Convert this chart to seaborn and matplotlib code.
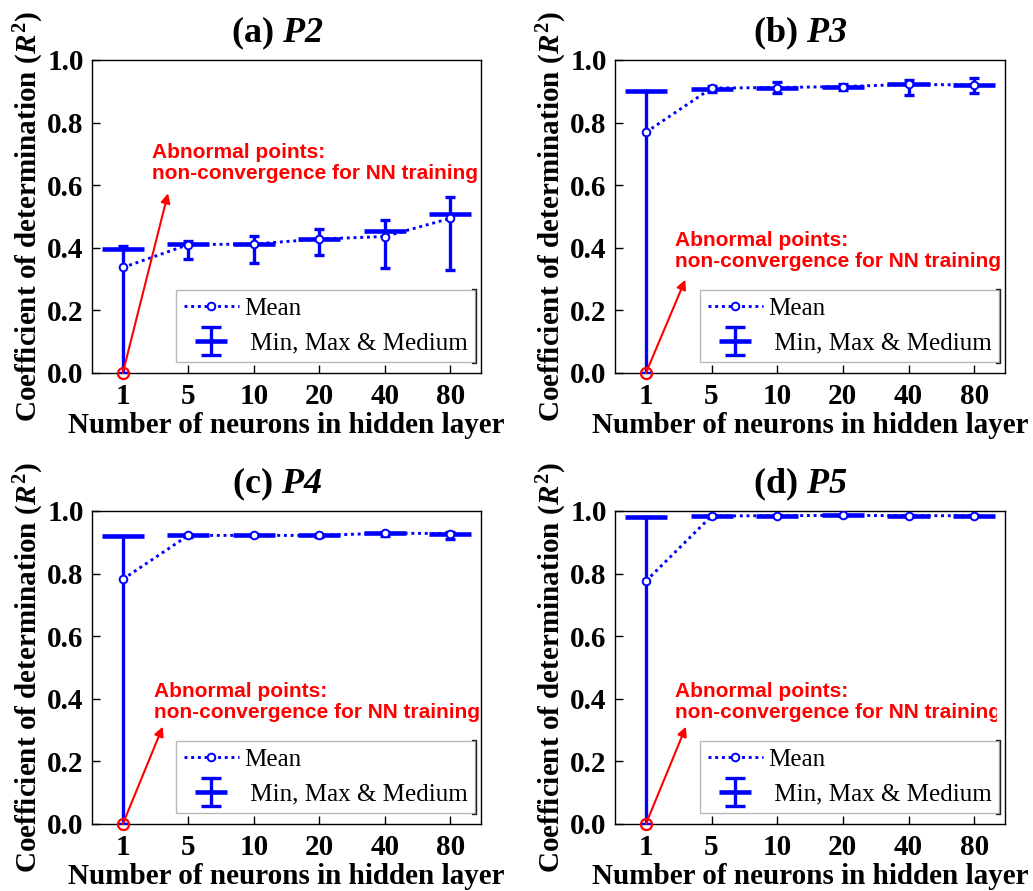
import matplotlib
matplotlib.use("Agg")
import matplotlib.pyplot as plt
from matplotlib.lines import Line2D
from matplotlib.legend_handler import HandlerErrorbar, HandlerTuple
from matplotlib.container import ErrorbarContainer
from matplotlib.patches import Rectangle
import numpy as np
import pandas as pd
import seaborn as sns

# ---------------- data ----------------
neurons = ["1", "5", "10", "20", "40", "80"]

p2_min = [0.0, 0.363, 0.351, 0.376, 0.335, 0.329]
p2_max = [0.407, 0.423, 0.439, 0.459, 0.489, 0.563]
p2_med = [0.396, 0.412, 0.412, 0.428, 0.455, 0.509]
p2_mean = [0.337, 0.410, 0.412, 0.428, 0.436, 0.494]

p3_min = [0.0, 0.897, 0.895, 0.904, 0.889, 0.894]
p3_max = [0.902, 0.916, 0.929, 0.923, 0.936, 0.941]
p3_med = [0.902, 0.907, 0.912, 0.915, 0.922, 0.920]
p3_mean = [0.769, 0.910, 0.912, 0.915, 0.922, 0.920]

p4_min = [0.0, 0.916, 0.919, 0.917, 0.921, 0.909]
p4_max = [0.920, 0.927, 0.925, 0.926, 0.934, 0.934]
p4_med = [0.920, 0.922, 0.922, 0.922, 0.929, 0.927]
p4_mean = [0.782, 0.922, 0.922, 0.922, 0.929, 0.928]

p5_min = [0.0, 0.982, 0.983, 0.984, 0.983, 0.983]
p5_max = [0.980, 0.986, 0.987, 0.988, 0.987, 0.987]
p5_med = [0.980, 0.984, 0.985, 0.986, 0.985, 0.985]
p5_mean = [0.776, 0.984, 0.985, 0.986, 0.985, 0.985]

# bold-italic panel names are set through the \mathcal slot (digits stay italic)
panel_titles = [r"(a) $\mathcal{P2}$", r"(b) $\mathcal{P3}$",
                r"(c) $\mathcal{P4}$", r"(d) $\mathcal{P5}$"]
note_text = "Abnormal points:\nnon-convergence for NN training"
y_ticks = [0.0, 0.2, 0.4, 0.6, 0.8, 1.0]

panels = [
    (p2_min, p2_max, p2_med, p2_mean),
    (p3_min, p3_max, p3_med, p3_mean),
    (p4_min, p4_max, p4_med, p4_mean),
    (p5_min, p5_max, p5_med, p5_mean),
]

# ---------------- style ----------------
sns.set_theme(style="ticks")
plt.rcParams.update({
    "font.family": ["Liberation Serif", "DejaVu Serif"],
    "font.weight": "bold",
    "text.color": "black",
    "axes.labelcolor": "black",
    "xtick.color": "black",
    "ytick.color": "black",
    "axes.linewidth": 1.0,
    "axes.edgecolor": "black",
    "mathtext.fontset": "custom",
    "mathtext.rm": "Liberation Serif:bold",
    "mathtext.bf": "Liberation Serif:bold",
    "mathtext.it": "Liberation Serif:italic:bold",
    "mathtext.cal": "Liberation Serif:italic:bold",
})

BLUE = "#0000ff"
RED = "#ff0000"
DOTS = (0, (1, 1.3))

# axes rectangles in figure fractions: left, bottom, width, height
rects = [
    (0.0891, 0.5814, 0.3766, 0.3513),
    (0.5954, 0.5814, 0.3775, 0.3513),
    (0.0891, 0.0752, 0.3766, 0.3513),
    (0.5954, 0.0752, 0.3775, 0.3513),
]
# note text anchor (x, y top) and arrow head (x, y) for each panel
note_pos = [(0.44, 0.735), (0.45, 0.455), (0.475, 0.455), (0.45, 0.455)]
arrow_head = [(0.69, 0.574), (0.60, 0.298), (0.61, 0.311), (0.61, 0.311)]
note_clip = [None, None, None, 0.979]


class WideCapErrorbar(HandlerErrorbar):
    def create_artists(self, *args, **kwargs):
        artists = super().create_artists(*args, **kwargs)
        for a in artists:
            if isinstance(a, Line2D) and a.get_marker() == "_":
                a.set_markersize(a.get_markersize() * 2.0)
        return artists


fig = plt.figure(figsize=(10.33, 8.91), dpi=100)
legends = []

for i, (vmin, vmax, vmed, vmean) in enumerate(panels):
    ax = fig.add_axes(rects[i])
    df = pd.DataFrame({
        "pos": np.arange(len(neurons)),
        "neurons": neurons,
        "min": vmin, "max": vmax, "med": vmed, "mean": vmean,
    })
    med = df["med"].to_numpy()
    yerr = np.vstack([med - df["min"].to_numpy(), df["max"].to_numpy() - med])

    # vertical range bars with caps at min and max
    eb_y = ax.errorbar(df["pos"], med, yerr=yerr, fmt="none", ecolor=BLUE,
                       elinewidth=2.4, capsize=3.6, capthick=2.4, zorder=3)
    # wide horizontal bar at the median
    eb_x = ax.errorbar(df["pos"], med, xerr=0.32, fmt="none", ecolor=BLUE,
                       elinewidth=3.3, capsize=0, zorder=3)

    # mean line
    sns.lineplot(data=df, x="pos", y="mean", ax=ax, color=BLUE,
                 linestyle=DOTS, linewidth=2.1, marker="o",
                 markersize=5.5, markerfacecolor="white",
                 markeredgecolor=BLUE, markeredgewidth=1.4, zorder=4)

    # abnormal point marker
    ax.plot([0], [0], marker="o", markersize=8, markerfacecolor="none",
            markeredgecolor=RED, markeredgewidth=1.6, clip_on=False, zorder=6)
    ax.annotate("", xy=arrow_head[i], xytext=(0, 0),
                arrowprops=dict(arrowstyle="-|>", color=RED, lw=1.5,
                                mutation_scale=14, shrinkA=0, shrinkB=0),
                zorder=6)
    t = ax.text(note_pos[i][0], note_pos[i][1], note_text, color=RED,
                fontsize=15, fontweight="bold", family="Liberation Sans",
                ha="left", va="top", linespacing=1.15, zorder=6)
    if note_clip[i] is not None:
        clip = Rectangle((0, 0), note_clip[i], 1, transform=ax.transAxes,
                         facecolor="none", edgecolor="none")
        t.set_clip_on(True)
        t.set_clip_path(clip)

    ax.set_xlim(-0.47, 5.47)
    ax.set_ylim(0, 1.0)
    ax.set_xticks(range(len(neurons)))
    ax.set_xticklabels(neurons)
    ax.set_yticks(y_ticks)
    ax.set_yticklabels([f"{v:.1f}" for v in y_ticks])
    ax.tick_params(axis="both", direction="in", length=6, width=1.0,
                   labelsize=21, colors="black")
    ax.tick_params(axis="x", pad=7)
    ax.tick_params(axis="y", pad=6)
    for lab in ax.get_xticklabels() + ax.get_yticklabels():
        lab.set_fontweight("bold")

    ax.set_xlabel("Number of neurons in hidden layer", fontsize=21,
                  fontweight="bold", labelpad=2)
    ax.set_ylabel(r"Coefficient of determination ($R^2$)", fontsize=21,
                  fontweight="bold", labelpad=1)
    ax.set_title(panel_titles[i], fontsize=26, fontweight="bold", pad=13,
                 x=0.475)

    mean_handle = Line2D([], [], color=BLUE, linestyle=DOTS,
                         linewidth=2.1, marker="o", markersize=5.5,
                         markerfacecolor="white", markeredgecolor=BLUE,
                         markeredgewidth=1.4)
    leg = ax.legend([mean_handle, (eb_y, eb_x)],
                    ["Mean", " Min, Max & Medium"],
                    handler_map={tuple: HandlerTuple(ndivide=1, pad=0),
                                 ErrorbarContainer: WideCapErrorbar(
                                     xerr_size=0.64, yerr_size=0.56)},
                    loc="lower right", bbox_to_anchor=(0.985, 0.035),
                    borderaxespad=0, frameon=True, fancybox=False,
                    numpoints=1, handlelength=2.2, handletextpad=0.2,
                    labelspacing=0.5, borderpad=0.3,
                    prop={"family": "Liberation Serif", "weight": "normal",
                          "size": 18})
    leg.get_frame().set_edgecolor("#a8a8a8")
    leg.get_frame().set_linewidth(1.0)
    leg.set_zorder(5)
    legends.append(leg)

# dark bracket along the right side of each legend frame
fig.canvas.draw()
inv = fig.transFigure.inverted()
for leg in legends:
    bb = leg.get_frame().get_window_extent()
    (x0, y0), (x1, y1) = inv.transform([[bb.x0, bb.y0], [bb.x1, bb.y1]])
    dx = 3.0 / fig.bbox.width
    dy = 1.0 / fig.bbox.height
    fig.add_artist(Line2D([x1 - dx, x1 + dx * 0.4, x1 + dx * 0.4, x1 - dx],
                          [y1 + dy, y1 + dy, y0 - dy, y0 - dy],
                          transform=fig.transFigure, color="#222222",
                          linewidth=1.0, zorder=10))

fig.savefig("out.png", dpi=100)
